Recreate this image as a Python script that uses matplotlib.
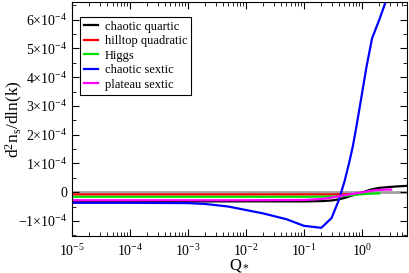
import matplotlib
matplotlib.use('Agg')
import matplotlib.pyplot as plt
from matplotlib.ticker import FuncFormatter, MultipleLocator, LogLocator
import numpy as np

plt.rcParams['font.family'] = 'Liberation Serif'
plt.rcParams['mathtext.fontset'] = 'custom'
plt.rcParams['mathtext.rm'] = 'Liberation Serif'
plt.rcParams['mathtext.it'] = 'Liberation Serif:italic'

# Q_* values and d2ns/dlnk (in units of 1e-4)
q_quartic = [1e-5, 1e-4, 1e-3, 1e-2, 0.1, 0.2, 0.3, 0.4, 0.5, 0.6, 0.8, 1.0, 1.5, 2.0, 3.0, 4.0, 6.0]
quartic = [-0.32, -0.32, -0.32, -0.32, -0.32, -0.31, -0.29, -0.25, -0.20, -0.15, -0.07, -0.01, 0.10, 0.15, 0.18, 0.20, 0.22]

q_hilltop = [1e-5, 1e-4, 1e-3, 1e-2, 0.1, 0.3, 0.5, 0.7]
hilltop = [-0.08, -0.08, -0.08, -0.08, -0.08, -0.08, -0.075, -0.07]

q_higgs = [1e-5, 1e-4, 1e-3, 1e-2, 0.1, 0.3, 0.5, 0.8, 1.2, 2.0]
higgs = [-0.16, -0.16, -0.16, -0.16, -0.16, -0.15, -0.13, -0.09, -0.06, -0.04]

q_sextic = [1e-5, 1e-4, 1e-3, 2e-3, 5e-3, 1e-2, 2e-2, 5e-2, 0.1, 0.2, 0.3, 0.4, 0.5,
            0.6, 0.7, 0.8, 0.9, 1.0, 1.2, 1.5, 2.0, 2.5, 3.0]
sextic = [-0.37, -0.37, -0.38, -0.41, -0.50, -0.62, -0.74, -0.94, -1.17, -1.24, -0.90, -0.28, 0.36,
          1.0, 1.6, 2.25, 2.85, 3.4, 4.35, 5.35, 6.0, 6.55, 6.95]

q_plateau = [1e-5, 1e-4, 1e-3, 1e-2, 0.1, 0.2, 0.3, 0.4, 0.6, 0.8, 1.2, 1.7, 2.5, 3.2]
plateau = [-0.28, -0.28, -0.28, -0.28, -0.27, -0.24, -0.19, -0.14, -0.08, -0.04, 0.02, 0.07, 0.09, 0.09]

fig = plt.figure(figsize=(4.09, 2.73), dpi=100)
ax = fig.add_axes([0.176, 0.136, 0.819, 0.857])

ax.axhline(0, color='#a0a0a0', lw=2, zorder=1)
ax.plot(q_quartic, np.array(quartic) * 1e-4, color='black', lw=1.6, label='chaotic quartic')
ax.plot(q_hilltop, np.array(hilltop) * 1e-4, color='red', lw=1.6, label='hilltop quadratic')
ax.plot(q_higgs, np.array(higgs) * 1e-4, color='#00e000', lw=1.6, label='Higgs')
ax.plot(q_sextic, np.array(sextic) * 1e-4, color='#0000ff', lw=1.6, label='chaotic sextic')
ax.plot(q_plateau, np.array(plateau) * 1e-4, color='magenta', lw=1.6, label='plateau sextic')

ax.set_xscale('log')
ax.set_xlim(1e-5, 6)
ax.set_ylim(-1.52e-4, 6.62e-4)

ax.xaxis.set_major_locator(LogLocator(base=10, numticks=10))
ax.xaxis.set_minor_locator(LogLocator(base=10, subs=np.arange(2, 10), numticks=10))
ax.xaxis.set_major_formatter(FuncFormatter(lambda v, p: r'$10^{%d}$' % round(np.log10(v))))
ax.yaxis.set_major_locator(MultipleLocator(1e-4))
ax.yaxis.set_minor_locator(MultipleLocator(0.5e-4))


def yfmt(v, p):
    n = int(round(v / 1e-4))
    if n == 0:
        return '0'
    return r'$%d{\times}10^{-4}$' % n


ax.yaxis.set_major_formatter(FuncFormatter(yfmt))
ax.tick_params(which='both', direction='in', top=True, right=True, labelsize=10)
ax.tick_params(axis='x', pad=5)
ax.tick_params(which='major', length=5)
ax.tick_params(which='minor', length=3)

ax.set_xlabel(r'Q$_*$', fontsize=12, labelpad=-1)
ax.set_ylabel(r'd$^2$n$_\mathrm{s}$/dln(k)', fontsize=12.5)
ax.yaxis.set_label_coords(-0.14, 0.5)

leg = ax.legend(loc='upper left', bbox_to_anchor=(0.025, 0.935), fontsize=9, frameon=True,
                fancybox=False, edgecolor='black', framealpha=1, handlelength=1.1,
                handletextpad=0.55, borderpad=0.3, labelspacing=0.2, borderaxespad=0)
leg.get_frame().set_linewidth(0.8)

fig.savefig('out.png', dpi=100)
